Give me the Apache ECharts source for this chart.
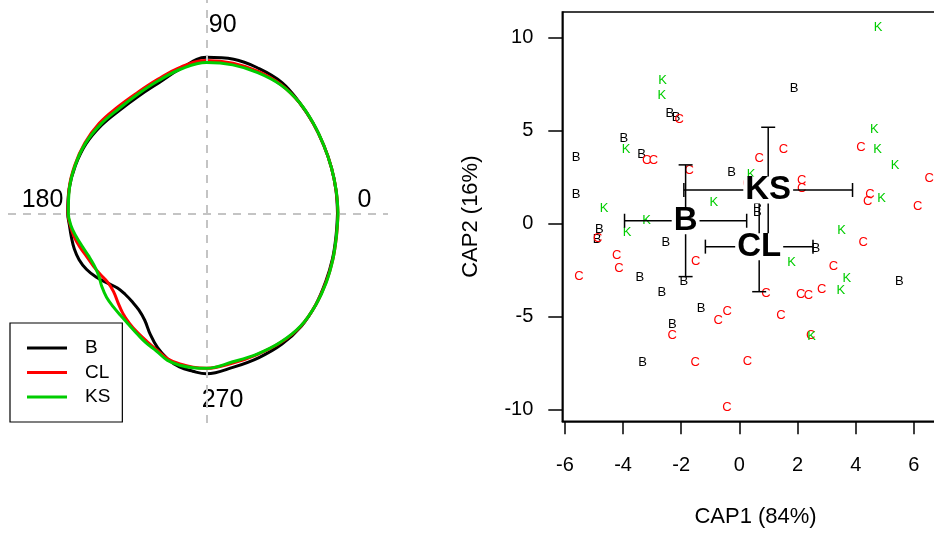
<!DOCTYPE html>
<html>
<head>
<meta charset="utf-8">
<script src="https://cdn.jsdelivr.net/npm/echarts@6/dist/echarts.min.js"></script>
<style>
    html, body { margin: 0; padding: 0; background: #fff; }
    #chart { width: 934px; height: 534px; }
</style>
</head>
<body>
<div id="chart"></div>
<script>
    const FONT = 'Liberation Sans, Arial, sans-serif'

    // left panel: outline radius per angle (degrees, counter-clockwise from 0)
    const angles = [0, 10, 20, 30, 40, 50, 60, 70, 80, 90, 100, 110, 120, 130, 140, 150, 160, 170, 180,
        185, 190, 195, 200, 205, 210, 215, 220, 225, 230, 235, 240, 245, 250, 255, 260, 265, 270,
        280, 290, 300, 310, 320, 330, 340, 350, 360]
    const radiusB = [131, 131.5, 133, 135.5, 139.5, 144.6, 151, 154, 156.5, 156, 147, 139, 135.5, 134.8, 137, 139, 139.5, 139.5, 138.8,
        137.6, 137.2, 136.9, 135.6, 132.5, 127.5, 121.3, 116.2, 114.8, 115.5, 118, 123.5, 133.3, 143, 150.6, 156, 158.5, 160.5,
        156.2, 153.5, 151, 147.5, 142.5, 137.5, 134, 131.5, 131]
    const radiusCL = [131.5, 131.6, 133, 135.5, 139.5, 144.5, 148.7, 151, 152.5, 152.8, 148.5, 142.5, 139, 138.5, 140, 140.5, 140.2, 139.6, 138.5,
        136.8, 134.5, 131, 127.3, 124.8, 122.5, 120.5, 121.5, 125.5, 130.3, 134.3, 137.8, 141.3, 145.5, 150.5, 153, 154.5, 155,
        152, 150, 149, 147, 142.5, 138, 134.5, 132, 131.5]
    const radiusKS = [131.5, 131.7, 133, 135.5, 139.6, 144.6, 148.3, 149.7, 150.7, 150.8, 146.5, 141, 137.5, 136.5, 138.3, 139.8, 139.8, 139.3, 138.2,
        136.2, 132.5, 128.5, 125.3, 123.8, 124.5, 127.8, 130.5, 132, 133.5, 135.7, 139, 143, 146.5, 152, 154.3, 155, 155,
        150.8, 149.5, 148.6, 146.8, 142.6, 138.3, 134.5, 131.9, 131.5]
    const groups = ['B', 'CL', 'KS']
    const groupColors = ['#000000', '#ff0000', '#00cd00']
    const directionLabels = ['90', '180', '0', '270']

    // right panel: ordination scores
    const bPoints = [[1.88, 7.26], [-2.39, 5.92], [-2.18, 5.72], [-3.97, 4.57], [-3.36, 3.73], [-5.62, 3.56], [-5.62, 1.58],
        [-0.27, 2.73], [0.62, 1.0], [0.62, 0.6], [-4.82, -0.31], [-4.89, -0.85], [-2.53, -1.03], [-3.42, -2.89],
        [-1.91, -3.09], [-2.67, -3.70], [-1.32, -4.56], [-2.31, -5.40], [-3.33, -7.46], [2.63, -1.33], [5.50, -3.09]]
    const cPoints = [[-2.07, 5.61], [-3.19, 3.41], [-2.96, 3.37], [-1.73, 2.87], [0.68, 3.50], [1.51, 4.0], [0.27, 2.16],
        [2.14, 2.34], [2.14, 1.89], [4.18, 4.09], [6.53, 2.43], [4.49, 1.57], [4.41, 1.21], [6.13, 0.9], [-4.22, -1.69],
        [-4.14, -2.41], [-5.52, -2.82], [-4.87, -0.82], [-1.50, -2.01], [-0.42, -4.73], [-0.73, -5.22], [-2.31, -5.99],
        [-1.52, -7.46], [0.28, -7.42], [-0.43, -9.89], [0.91, -3.75], [1.43, -4.95], [2.11, -3.80], [2.37, -3.88],
        [2.83, -3.54], [3.23, -2.32], [4.26, -1.01], [2.45, -5.99]]
    const kPoints = [[4.77, 10.54], [-2.64, 7.67], [-2.67, 6.86], [-3.9, 4.0], [-4.65, 0.82], [0.40, 2.66], [-0.88, 1.14],
        [4.64, 5.06], [4.75, 4.0], [5.35, 3.14], [4.89, 1.35], [-3.19, 0.19], [-3.86, -0.49], [1.79, -2.08],
        [3.51, -0.39], [3.69, -2.94], [3.49, -3.61], [2.48, -6.08]]
    const centroidX = [-1.85, 0.68, 0.99]
    const centroidY = [0.15, -1.24, 1.80]
    const errX = [2.1, 1.85, 2.9]
    const errY = [3.0, 2.42, 3.37]
    const xTicks = [-6, -4, -2, 0, 2, 4, 6]
    const yTicks = [-10, -5, 0, 5, 10]

    const chart = echarts.init(document.getElementById('chart'))

    function letterSeries(points, letter, color) {
        return {
            type: 'scatter',
            xAxisIndex: 1,
            yAxisIndex: 1,
            data: points,
            symbol: 'circle',
            symbolSize: 1,
            itemStyle: {color: 'rgba(0,0,0,0)', opacity: 1},
            silent: true,
            z: 2,
            label: {
                show: true,
                position: 'inside',
                formatter: letter,
                color: color,
                fontSize: 13,
                fontFamily: FONT
            }
        }
    }

    const outlines = [radiusB, radiusCL, radiusKS].map((radii, i) => ({
        name: groups[i],
        type: 'line',
        coordinateSystem: 'polar',
        data: radii.map((r, j) => [r, angles[j]]),
        symbol: 'none',
        smooth: 0.4,
        lineStyle: {color: groupColors[i], width: 3},
        itemStyle: {color: groupColors[i]},
        z: 3 + i
    }))

    const labelPos = [[222.7, 25], [42.5, 200], [364.5, 200], [222.5, 400]]

    const option = {
        animation: false,
        backgroundColor: '#fff',
        polar: {center: [206.5, 213.3], radius: 200},
        angleAxis: {
            type: 'value', min: 0, max: 360, startAngle: 0, clockwise: false,
            axisLine: {show: false}, axisTick: {show: false}, axisLabel: {show: false}, splitLine: {show: false}
        },
        radiusAxis: {
            type: 'value', min: 0, max: 200,
            axisLine: {show: false}, axisTick: {show: false}, axisLabel: {show: false}, splitLine: {show: false}
        },
        grid: [
            {left: 8, top: 0, width: 380, height: 423, outerBoundsMode: 'none'},
            {
                left: 562.3, top: 12, width: 386.5, height: 409.3, outerBoundsMode: 'none',
                show: true, borderColor: '#000', borderWidth: 1.5
            }
        ],
        xAxis: [
            {gridIndex: 0, type: 'value', min: -198.5, max: 181.5, show: false},
            {
                gridIndex: 1, type: 'value', min: -6.09, max: 7.2,
                name: 'CAP1 (84%)', nameLocation: 'middle', nameGap: 85,
                nameTextStyle: {fontSize: 22, fontFamily: FONT, color: '#000'},
                axisLine: {onZero: false, lineStyle: {color: '#000', width: 1.5}},
                axisTick: {customValues: xTicks, length: 13, lineStyle: {color: '#000', width: 1.5}},
                axisLabel: {customValues: xTicks, margin: 34, fontSize: 20, fontFamily: FONT, color: '#000'},
                splitLine: {show: false}
            }
        ],
        yAxis: [
            {gridIndex: 0, type: 'value', min: -209.7, max: 213.3, show: false},
            {
                gridIndex: 1, type: 'value', min: -10.62, max: 11.36,
                name: 'CAP2 (16%)', nameLocation: 'middle', nameGap: 80,
                nameTextStyle: {fontSize: 22, fontFamily: FONT, color: '#000'},
                axisLine: {onZero: false, lineStyle: {color: '#000', width: 1.5}},
                axisTick: {customValues: yTicks, length: 14, lineStyle: {color: '#000', width: 1.5}},
                axisLabel: {customValues: yTicks, margin: 29, fontSize: 20, fontFamily: FONT, color: '#000'},
                splitLine: {show: false}
            }
        ],
        legend: {
            data: groups,
            orient: 'vertical',
            left: 10,
            top: 323,
            icon: 'rect',
            itemWidth: 40,
            itemHeight: 3,
            itemGap: 4.5,
            padding: [15, 12, 15, 17],
            borderColor: '#000',
            borderWidth: 1.2,
            backgroundColor: '#fff',
            textStyle: {fontSize: 19, fontFamily: FONT, color: '#000', lineHeight: 20, padding: [0, 0, 0, 13]}
        },
        graphic: directionLabels.map((text, i) => ({
            type: 'text',
            x: labelPos[i][0],
            y: labelPos[i][1],
            silent: true,
            style: {text: text, fontSize: 25, fontFamily: FONT, fill: '#000', align: 'center', verticalAlign: 'middle'}
        })),
        series: [
            {
                type: 'line',
                xAxisIndex: 0,
                yAxisIndex: 0,
                data: [[0, 0]],
                symbol: 'none',
                silent: true,
                z: 1,
                markLine: {
                    silent: true,
                    symbol: ['none', 'none'],
                    label: {show: false},
                    lineStyle: {color: '#c4c4c4', type: [8, 7], width: 2},
                    data: [{xAxis: 0}, {yAxis: 0}]
                }
            },
            ...outlines,
            letterSeries(bPoints, 'B', '#000000'),
            letterSeries(cPoints, 'C', '#ff0000'),
            letterSeries(kPoints, 'K', '#00cd00'),
            {
                type: 'custom',
                xAxisIndex: 1,
                yAxisIndex: 1,
                silent: true,
                z: 4,
                data: centroidX.map((x, i) => [x, centroidY[i], errX[i], errY[i]]),
                encode: {x: 0, y: 1},
                renderItem: function (params, api) {
                    const cx = api.value(0), cy = api.value(1), ex = api.value(2), ey = api.value(3)
                    const l = api.coord([cx - ex, cy]), r = api.coord([cx + ex, cy])
                    const t = api.coord([cx, cy + ey]), b = api.coord([cx, cy - ey])
                    const cap = 7
                    const style = {stroke: '#000', lineWidth: 1.5}
                    const seg = (x1, y1, x2, y2) => ({type: 'line', shape: {x1, y1, x2, y2}, style})
                    return {
                        type: 'group',
                        children: [
                            seg(l[0], l[1], r[0], r[1]),
                            seg(l[0], l[1] - cap, l[0], l[1] + cap),
                            seg(r[0], r[1] - cap, r[0], r[1] + cap),
                            seg(t[0], t[1], b[0], b[1]),
                            seg(t[0] - cap, t[1], t[0] + cap, t[1]),
                            seg(b[0] - cap, b[1], b[0] + cap, b[1])
                        ]
                    }
                }
            },
            {
                type: 'scatter',
                xAxisIndex: 1,
                yAxisIndex: 1,
                silent: true,
                z: 5,
                data: groups.map((g, i) => ({name: g, value: [centroidX[i], centroidY[i]]})),
                symbol: 'circle',
                symbolSize: 1,
                itemStyle: {color: 'rgba(0,0,0,0)', opacity: 1},
                label: {
                    show: true,
                    position: 'inside',
                    formatter: '{b}',
                    color: '#000',
                    fontSize: 33,
                    fontWeight: 'bold',
                    fontFamily: FONT,
                    lineHeight: 27,
                    backgroundColor: '#fff',
                    padding: [0, 2]
                }
            }
        ]
    }

    chart.setOption(option)
</script>
</body>
</html>
